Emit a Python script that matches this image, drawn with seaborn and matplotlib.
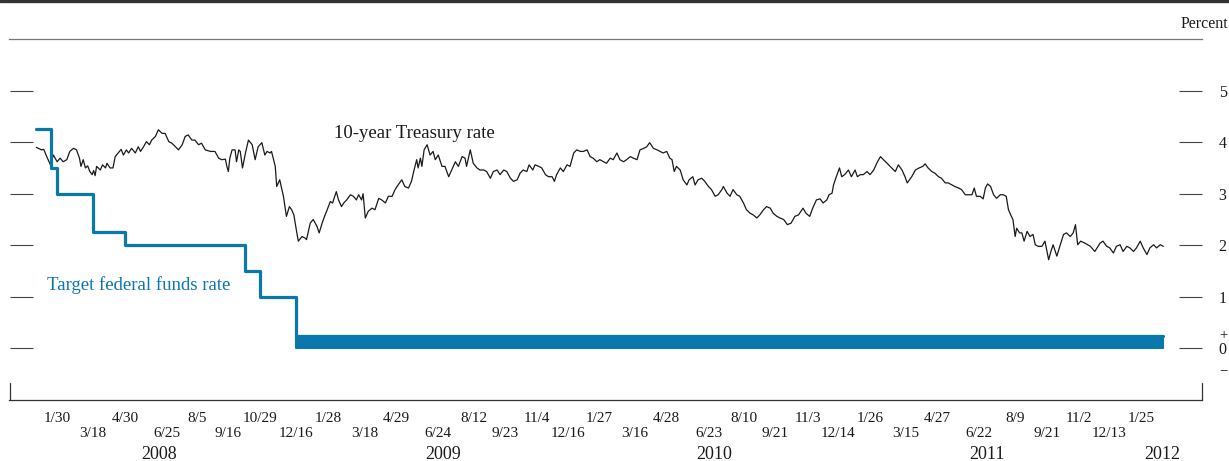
import pandas as pd
import matplotlib
matplotlib.use('Agg')
import matplotlib.pyplot as plt
from matplotlib.lines import Line2D
import seaborn as sns

# 10-year Treasury rate (day counted from 2008-01-01, percent)
ten_year_day = [
    1, 8, 11, 15, 20, 22, 24, 29, 33, 37,
    42, 46, 51, 55, 59, 61, 64, 67, 70, 73,
    76, 78, 80, 82, 87, 90, 94, 96, 100, 104,
    107, 111, 115, 118, 122, 125, 129, 134, 138, 141,
    145, 149, 153, 156, 161, 165, 170, 174, 179, 183,
    188, 192, 197, 201, 205, 210, 214, 219, 223, 228,
    235, 241, 246, 250, 255, 257, 259, 261, 264, 268,
    270, 273, 275, 278, 282, 286, 291, 295, 299, 304,
    308, 311, 315, 317, 322, 324, 328, 333, 337, 341,
    344, 347, 351, 353, 358, 362, 364, 369, 373, 378,
    381, 385, 389, 391, 396, 399, 404, 407, 411, 414,
    418, 423, 427, 431, 434, 438, 440, 443, 447, 452,
    456, 461, 465, 470, 474, 479, 483, 487, 492, 496,
    501, 505, 508, 512, 514, 517, 519, 522, 526, 530,
    534, 537, 541, 546, 550, 555, 559, 564, 568, 573,
    577, 579, 584, 588, 593, 597, 602, 606, 611, 615,
    620, 624, 629, 633, 638, 642, 647, 651, 655, 660,
    663, 668, 671, 676, 680, 685, 689, 694, 697, 700,
    705, 709, 714, 718, 723, 727, 732, 736, 741, 745,
    749, 754, 758, 763, 767, 772, 776, 781, 785, 790,
    794, 799, 803, 808, 812, 817, 821, 825, 830, 835,
    839, 843, 848, 852, 855, 858, 861, 866, 870, 875,
    878, 883, 886, 890, 895, 899, 904, 908, 913, 917,
    922, 924, 929, 933, 937, 942, 946, 951, 955, 960,
    964, 969, 973, 978, 982, 987, 991, 996, 1000, 1005,
    1010, 1015, 1020, 1025, 1031, 1035, 1040, 1044, 1049, 1054,
    1058, 1063, 1066, 1070, 1072, 1075, 1080, 1083, 1087, 1092,
    1096, 1101, 1104, 1108, 1112, 1117, 1121, 1126, 1130, 1135,
    1139, 1144, 1150, 1155, 1159, 1164, 1168, 1171, 1177, 1182,
    1187, 1192, 1195, 1199, 1204, 1208, 1213, 1217, 1222, 1226,
    1231, 1235, 1240, 1244, 1249, 1253, 1258, 1261, 1264, 1269,
    1273, 1276, 1279, 1283, 1287, 1291, 1296, 1300, 1304, 1307,
    1310, 1313, 1316, 1318, 1322, 1325, 1328, 1332, 1336, 1340,
    1343, 1347, 1352, 1356, 1361, 1364, 1367, 1372, 1376, 1381,
    1385, 1390, 1394, 1397, 1400, 1404, 1410, 1417, 1423, 1430,
    1434, 1439, 1443, 1448, 1452, 1457, 1461, 1466, 1470, 1475,
    1479, 1484, 1488, 1493, 1497, 1502, 1506, 1511, 1515]
ten_year_pct = [
    3.90, 3.85, 3.86, 3.72, 3.56, 3.67, 3.75, 3.62, 3.69, 3.62,
    3.66, 3.82, 3.88, 3.85, 3.69, 3.53, 3.66, 3.50, 3.54, 3.43,
    3.37, 3.45, 3.35, 3.53, 3.46, 3.56, 3.50, 3.59, 3.50, 3.50,
    3.72, 3.79, 3.86, 3.75, 3.85, 3.79, 3.88, 3.79, 3.91, 3.82,
    3.91, 4.01, 3.95, 4.04, 4.11, 4.24, 4.17, 4.17, 4.01, 3.98,
    3.91, 3.85, 3.95, 4.11, 4.14, 4.04, 4.04, 3.95, 3.98, 3.85,
    3.82, 3.82, 3.69, 3.66, 3.67, 3.53, 3.43, 3.69, 3.85, 3.85,
    3.62, 3.85, 3.82, 3.50, 3.79, 4.04, 3.95, 3.66, 3.91, 3.99,
    3.75, 3.82, 3.79, 3.82, 3.53, 3.14, 3.27, 2.95, 2.56, 2.75,
    2.69, 2.59, 2.24, 2.08, 2.17, 2.14, 2.11, 2.43, 2.50, 2.37,
    2.24, 2.43, 2.59, 2.66, 2.85, 2.82, 3.04, 2.88, 2.75, 2.82,
    2.88, 2.98, 2.95, 2.88, 2.98, 2.88, 3.00, 2.53, 2.66, 2.72,
    2.69, 2.91, 2.88, 2.82, 2.95, 2.95, 3.08, 3.17, 3.27, 3.14,
    3.11, 3.24, 3.43, 3.66, 3.50, 3.69, 3.53, 3.85, 3.95, 3.75,
    3.82, 3.66, 3.75, 3.53, 3.53, 3.33, 3.46, 3.62, 3.53, 3.72,
    3.69, 3.53, 3.85, 3.59, 3.50, 3.46, 3.46, 3.43, 3.30, 3.43,
    3.46, 3.37, 3.46, 3.43, 3.30, 3.24, 3.27, 3.40, 3.46, 3.43,
    3.56, 3.46, 3.56, 3.53, 3.50, 3.37, 3.33, 3.33, 3.24, 3.37,
    3.50, 3.43, 3.56, 3.53, 3.79, 3.85, 3.82, 3.82, 3.85, 3.72,
    3.69, 3.62, 3.66, 3.62, 3.59, 3.69, 3.66, 3.79, 3.66, 3.62,
    3.66, 3.72, 3.69, 3.66, 3.85, 3.88, 3.91, 3.99, 3.88, 3.85,
    3.82, 3.79, 3.82, 3.69, 3.66, 3.43, 3.53, 3.46, 3.27, 3.17,
    3.27, 3.33, 3.17, 3.27, 3.30, 3.24, 3.14, 3.08, 2.95, 2.98,
    3.08, 3.14, 3.01, 2.95, 3.08, 2.98, 2.95, 2.82, 2.69, 2.62,
    2.59, 2.53, 2.59, 2.69, 2.75, 2.72, 2.62, 2.56, 2.53, 2.50,
    2.40, 2.43, 2.56, 2.59, 2.72, 2.62, 2.56, 2.72, 2.88, 2.90,
    2.82, 2.88, 2.98, 3.01, 3.17, 3.30, 3.50, 3.33, 3.37, 3.46,
    3.33, 3.46, 3.33, 3.37, 3.37, 3.43, 3.37, 3.46, 3.59, 3.72,
    3.66, 3.59, 3.50, 3.43, 3.56, 3.46, 3.33, 3.21, 3.33, 3.46,
    3.50, 3.53, 3.58, 3.50, 3.43, 3.40, 3.33, 3.30, 3.21, 3.21,
    3.17, 3.14, 3.11, 3.08, 2.98, 2.98, 2.98, 3.11, 2.95, 2.95,
    2.90, 3.11, 3.19, 3.14, 2.98, 2.91, 2.98, 2.98, 2.95, 2.69,
    2.59, 2.50, 2.17, 2.33, 2.24, 2.24, 2.08, 2.27, 2.17, 2.21,
    2.01, 1.98, 1.98, 2.08, 1.72, 1.88, 2.01, 1.79, 1.98, 2.21,
    2.24, 2.17, 2.24, 2.40, 2.01, 2.08, 2.04, 1.98, 1.88, 2.04,
    2.08, 1.98, 1.95, 1.85, 1.98, 2.01, 1.88, 1.98, 1.95, 1.88,
    1.95, 2.08, 1.95, 1.82, 1.95, 2.01, 1.95, 2.01, 1.98]

# target federal funds rate (upper end of range after 12/16/2008)
ffr_dates = ['2008-01-02', '2008-01-22', '2008-01-30', '2008-03-18', '2008-04-30',
             '2008-10-08', '2008-10-29', '2008-12-16', '2012-02-24']
ffr_level = [4.25, 3.5, 3.0, 2.25, 2.0, 1.5, 1.0, 0.25, 0.25]
range_low, range_high = 0.0, 0.25

# FOMC meeting dates on the x axis, in two staggered rows
row1_dates = ['2008-01-30', '2008-04-30', '2008-08-05', '2008-10-29', '2009-01-28',
              '2009-04-29', '2009-08-12', '2009-11-04', '2010-01-27', '2010-04-28',
              '2010-08-10', '2010-11-03', '2011-01-26', '2011-04-27', '2011-08-09',
              '2011-11-02', '2012-01-25']
row2_dates = ['2008-03-18', '2008-06-25', '2008-09-16', '2008-12-16', '2009-03-18',
              '2009-06-24', '2009-09-23', '2009-12-16', '2010-03-16', '2010-06-23',
              '2010-09-21', '2010-12-14', '2011-03-15', '2011-06-22', '2011-09-21',
              '2011-12-13']
year_labels = ['2008', '2009', '2010', '2011', '2012']
year_dates = ['2008-06-15', '2009-07-02', '2010-07-01', '2011-07-02', '2012-02-22']

blue = '#0a77ad'
ink = '#1a1a1a'

sns.set_style('white')
plt.rcParams['font.family'] = ['Liberation Serif', 'DejaVu Serif']

fig = plt.figure(figsize=(12.29, 4.61), dpi=100)
ax = fig.add_axes([9.5 / 1229, 61 / 461, 1192.5 / 1229, 361 / 461])

ten = pd.DataFrame({'date': pd.Timestamp('2008-01-01') + pd.to_timedelta(ten_year_day, unit='D'),
                    'rate': ten_year_pct})
ffr = pd.DataFrame({'date': pd.to_datetime(ffr_dates), 'rate': ffr_level})

sns.lineplot(data=ten, x='date', y='rate', color=ink, linewidth=0.9, estimator=None, ax=ax)
sns.lineplot(data=ffr, x='date', y='rate', color=blue, linewidth=2.3, drawstyle='steps-post',
             estimator=None, ax=ax)
band = pd.to_datetime([ffr_dates[7], ffr_dates[-1]])
ax.fill_between(band, range_low, range_high, color=blue, linewidth=1.5, edgecolor=blue)

ax.set_xlim(pd.Timestamp('2007-11-27'), pd.Timestamp('2012-04-16'))
ax.set_ylim(-1, 6)
ax.set_xlabel('')
ax.set_ylabel('')

# spines
ax.spines['left'].set_visible(False)
ax.spines['right'].set_visible(False)
ax.spines['top'].set_color('#777777')
ax.spines['top'].set_linewidth(0.9)
ax.spines['bottom'].set_color('#333333')
ax.spines['bottom'].set_linewidth(0.9)

# x ticks: two staggered rows of meeting dates
r1 = pd.to_datetime(row1_dates)
r2 = pd.to_datetime(row2_dates)
ax.set_xticks(r1)
ax.set_xticklabels([f'{d.month}/{d.day}' for d in r1])
ax.set_xticks(r2, minor=True)
ax.set_xticklabels([f'{d.month}/{d.day}' for d in r2], minor=True)
ax.tick_params(axis='x', which='both', direction='in', length=5.8, width=0.8,
               color='#333333', labelsize=11, labelcolor=ink)
ax.tick_params(axis='x', which='major', pad=8.4)
ax.tick_params(axis='x', which='minor', pad=19.2)

# end ticks of the x axis
for xe in (0, 1):
    ax.plot([xe, xe], [0, 17 / 361], transform=ax.transAxes, color='#333333',
            linewidth=0.9, clip_on=False)

# y ticks on both sides, labels on the right
ax.set_yticks(range(6))
ax.set_yticklabels([str(v) for v in range(6)])
ax.tick_params(axis='y', direction='in', length=16.6, width=0.8, color='#444444',
               left=True, right=True, labelleft=False, labelright=True,
               pad=12, labelsize=11.5, labelcolor=ink)
ax.text(1.0 + 21 / 1192.5, 0.25, '+', transform=ax.get_yaxis_transform(),
        ha='center', va='center', fontsize=10.5, color=ink)
ax.text(1.0 + 21 / 1192.5, -0.44, '\u2212', transform=ax.get_yaxis_transform(),
        ha='center', va='center', fontsize=10.5, color=ink)

# year labels below the date rows
for lab, d in zip(year_labels, pd.to_datetime(year_dates)):
    ax.text(d, -46 / 361, lab, transform=ax.get_xaxis_transform(), ha='center',
            va='top', fontsize=13, color=ink)

# series labels
ax.text(pd.Timestamp('2009-02-05'), 4.08, '10-year Treasury rate', fontsize=13.5,
        color=ink, ha='left', va='baseline')
ax.text(pd.Timestamp('2008-01-16'), 1.14, 'Target federal funds rate', fontsize=13.5,
        color=blue, ha='left', va='baseline')

fig.text(1228 / 1229, 1 - 24 / 461, 'Percent', ha='right', va='center', fontsize=11.5, color=ink)
fig.add_artist(Line2D([0, 1], [1 - 1.5 / 461, 1 - 1.5 / 461], transform=fig.transFigure,
                      color='#333333', linewidth=2.4))

fig.savefig('out.png', dpi=100)
